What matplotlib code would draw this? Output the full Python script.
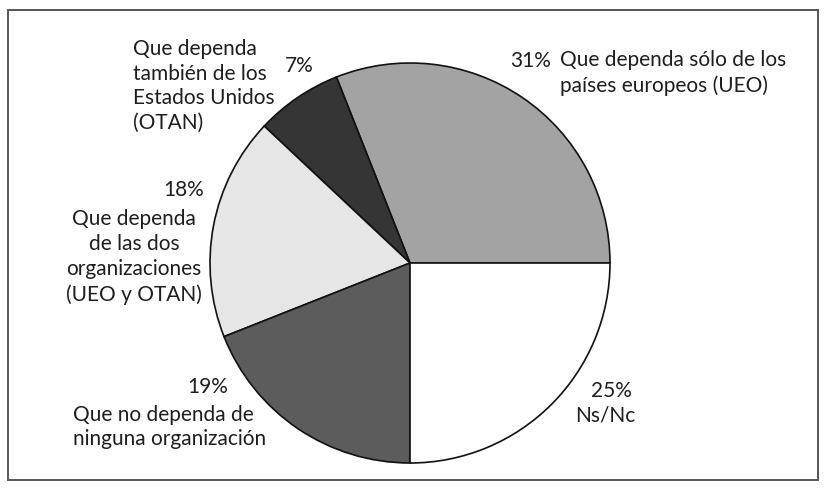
import matplotlib.pyplot as plt
from matplotlib.patches import Rectangle

# --- DATA ---
labels = [
    "Que dependa sólo de los\npaíses europeos (UEO)",
    "Que dependa\ntambién de los\nEstados Unidos\n(OTAN)",
    "Que dependa\nde las dos\norganizaciones\n(UEO y OTAN)",
    "Que no dependa de\nninguna organización",
    "Ns/Nc",
]
values = [31, 7, 18, 19, 25]
colors = ["#a3a3a3", "#353535", "#e6e6e6", "#5c5c5c", "#ffffff"]

W, H = 825, 488
plt.rcParams['font.family'] = ['Lato', 'DejaVu Sans']

fig = plt.figure(figsize=(W / 100, H / 100), dpi=100)
ax = fig.add_axes([0, 0, 1, 1])

def Y(y):
    # pixel row -> data y
    return H - y

# outer frame
ax.add_patch(Rectangle((8, Y(480)), 810, 470, fill=False,
                       edgecolor="#555555", linewidth=1.4))

ax.pie(values, colors=colors, startangle=0, counterclock=True,
       center=(410, Y(263)), radius=200, frame=True,
       wedgeprops=dict(edgecolor="#111111", linewidth=1.2))
ax.set_xlim(0, W)
ax.set_ylim(0, H)
ax.set_aspect('equal')
ax.axis('off')

fs = 15
tc = "#1e1e1e"
ls = 1.3

# 31%
ax.text(551, Y(61), f"{values[0]}%", ha='right', va='center', fontsize=fs, color=tc)
ax.text(560, Y(73), labels[0], ha='left', va='center', fontsize=fs, color=tc, linespacing=ls)
# 7%
ax.text(285, Y(66), f"{values[1]}%", ha='left', va='center', fontsize=fs, color=tc)
ax.text(133, Y(86), labels[1], ha='left', va='center', fontsize=fs, color=tc, linespacing=ls)
# 18%
ax.text(204, Y(190), f"{values[2]}%", ha='right', va='center', fontsize=fs, color=tc)
ax.text(134, Y(257), labels[2], ha='center', va='center', fontsize=fs, color=tc,
        linespacing=ls, multialignment='center')
# 19%
ax.text(208, Y(387), f"{values[3]}%", ha='center', va='center', fontsize=fs, color=tc)
ax.text(73, Y(427), labels[3], ha='left', va='center', fontsize=fs, color=tc, linespacing=ls)
# 25%
ax.text(611, Y(391), f"{values[4]}%", ha='center', va='center', fontsize=fs, color=tc)
ax.text(605, Y(416), labels[4], ha='center', va='center', fontsize=fs, color=tc)

fig.savefig("out.png", dpi=100, facecolor="white")
